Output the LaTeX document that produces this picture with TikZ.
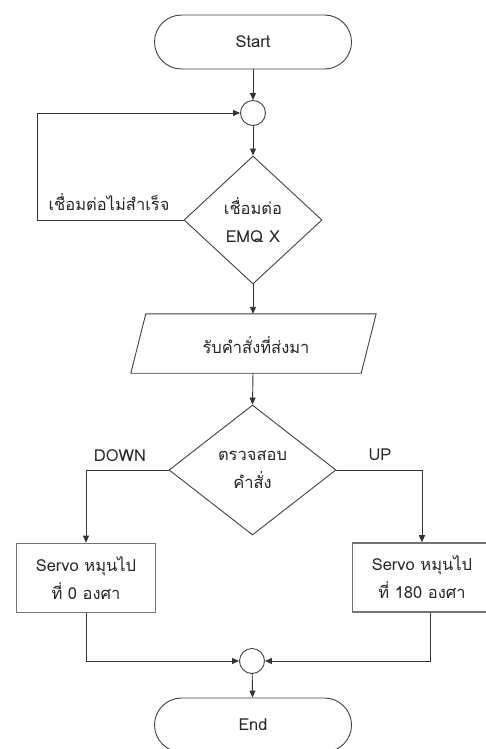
\documentclass[tikz,border=0pt]{standalone}
\usepackage{fontspec}
\setmainfont[Script=Thai]{Loma}
\usetikzlibrary{shapes.geometric,arrows.meta}
\begin{document}
\begin{tikzpicture}[x=1pt,y=-1pt,
  line/.style={draw=black!80,line width=0.9pt},
  arr/.style={line,-{Triangle[length=7pt,width=6pt]}},
  txt/.style={font=\fontsize{16.5}{28}\selectfont,align=center,text=black!85},
  term/.style={txt,draw=black!75,line width=0.9pt,rectangle,rounded corners=27pt,minimum width=197pt,minimum height=54pt,inner sep=0pt},
  junction/.style={circle,draw=black!75,line width=0.9pt,minimum size=25pt,inner sep=0pt},
  decision/.style={txt,diamond,draw=black!75,line width=0.9pt,inner sep=0pt},
  procbox/.style={txt,rectangle,draw=black!55,line width=1.6pt,minimum width=139pt,minimum height=69pt,inner sep=0pt},
  iobox/.style={txt,rectangle,minimum width=230pt,minimum height=59pt,inner sep=0pt},
  lbl/.style={txt}]
\useasboundingbox (0,0) rectangle (485,749);
\node[term] (start) at (253,42) {Start};
\node[junction] (j1) at (253,113) {};
\node[decision,minimum width=138pt,minimum height=128pt] (d1) at (253,220) {เชื่อมต่อ\\EMQ X};
\node[iobox] (recv) at (253,343.5) {};
\draw[line,draw=black!75] ([xshift=8pt]recv.north west) -- ([xshift=8pt]recv.north east)
  -- ([xshift=-7pt]recv.south east) -- ([xshift=-7pt]recv.south west) -- cycle;
\node[txt] (recvtxt) at (256,345) {รับคำสั่งที่ส่งมา};
\node[decision,minimum width=167pt,minimum height=130pt] (d2) at (252.5,470) {ตรวจสอบ\\คำสั่ง};
\node[procbox] (lbox) at (86,578) {Servo หมุนไป\\ที่ 0 องศา};
\node[procbox] (rbox) at (422,577.5) {Servo หมุนไป\\ที่ 180 องศา};
\node[junction] (j2) at (252,661) {};
\node[term] (end) at (253,725) {End};
\coordinate (loopc) at (37,220);
\node[lbl] (failtxt) at (109,202) {เชื่อมต่อไม่สำเร็จ};
\node[lbl] (downtxt) at (120,456) {DOWN};
\node[lbl] (uptxt) at (380,455) {UP};
\draw[arr] (start) -- (j1);
\draw[arr] (j1) -- (d1);
\draw[arr] (d1.west) -- (loopc) |- (j1.west);
\draw[arr] (d1.south) -- (recv.north);
\draw[arr] (recv.south) -- (d2.north);
\draw[arr] (d2.west) -| (lbox.north);
\draw[arr] (d2.east) -| (rbox.north);
\draw[arr] (lbox.south) |- (j2.west);
\draw[arr] ([xshift=8pt]rbox.south) |- (j2.east);
\draw[arr] (j2) -- (end);
\end{tikzpicture}
\end{document}
